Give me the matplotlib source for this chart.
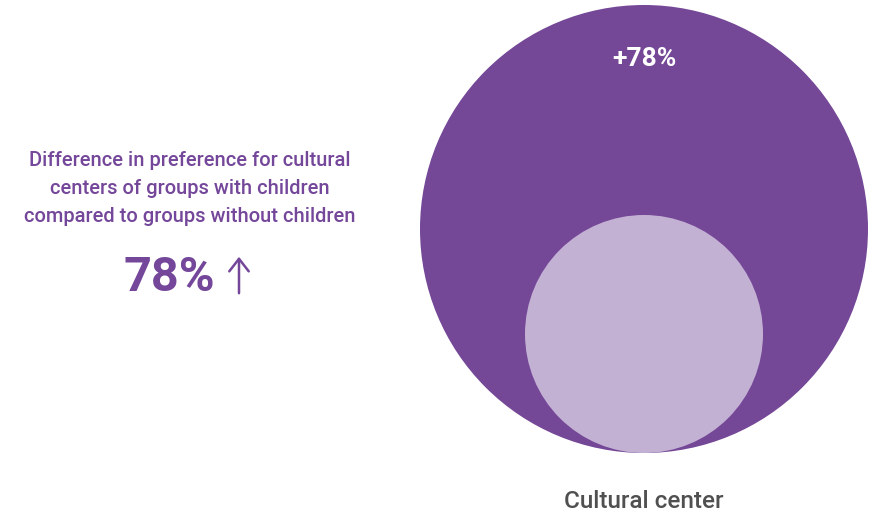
import matplotlib.pyplot as plt
from matplotlib.patches import Circle

# data
category = "Cultural center"
pct_increase = 78
caption_lines = ["Difference in preference for cultural",
                 "centers of groups with children",
                 "compared to groups without children"]
# circle radii (px) for groups with / without children
radii = [224, 119]
colors = ["#744797", "#c3b1d4"]

plt.rcParams['font.family'] = ['Roboto', 'DejaVu Sans']

fig = plt.figure(figsize=(8.79, 5.15), dpi=100)
ax = fig.add_axes([0, 0, 1, 1])
ax.set_xlim(0, 879)
ax.set_ylim(515, 0)
ax.set_aspect('equal')
ax.axis('off')

# circles share bottom point
cx, bottom = 644, 453
for r, c in zip(radii, colors):
    ax.add_patch(Circle((cx, bottom - r), r, color=c, lw=0))

ax.text(cx, 59, f"+{pct_increase}%", color='white', fontsize=19,
        fontweight='bold', ha='center', va='center')
ax.text(cx, 502, category, color='#505050', fontsize=17.5,
        fontweight='medium', ha='center', va='center')

for i, line in enumerate(caption_lines):
    ax.text(190, 161 + i * 28, line, color='#74479a', fontsize=14.5,
            fontweight='medium', ha='center', va='center')

ax.text(215, 278, f"{pct_increase}%", color='#74479a', fontsize=35,
        fontweight='bold', ha='right', va='center')
ax.annotate('', xy=(239, 254), xytext=(239, 296),
            arrowprops=dict(arrowstyle='->,head_length=0.9,head_width=0.7',
                            color='#74479a', lw=1.8))

plt.savefig('out.png', dpi=100)
